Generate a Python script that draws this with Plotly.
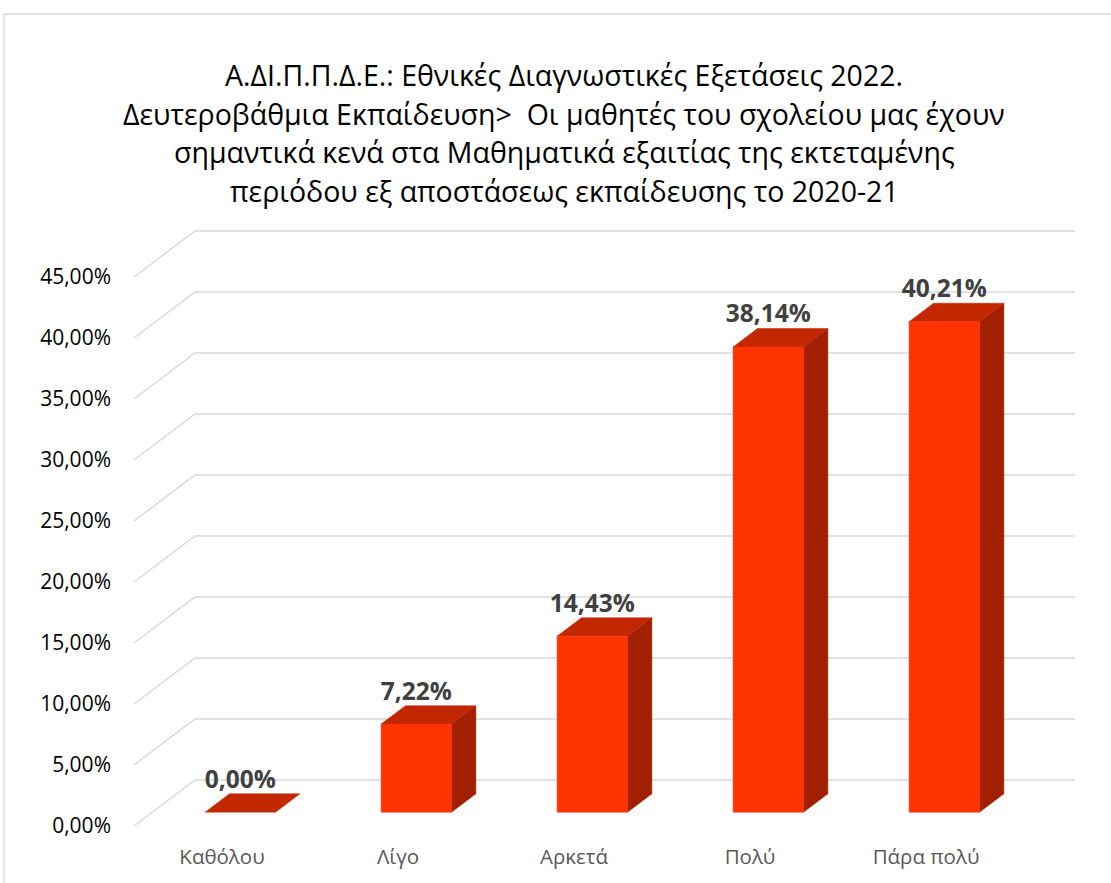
import plotly.graph_objects as go

categories = ["Καθόλου", "Λίγο", "Αρκετά", "Πολύ", "Πάρα πολύ"]
values = [0.00, 7.22, 14.43, 38.14, 40.21]
tick_values = [0, 5, 10, 15, 20, 25, 30, 35, 40, 45]
tick_labels = ["0,00%", "5,00%", "10,00%", "15,00%", "20,00%", "25,00%",
               "30,00%", "35,00%", "40,00%", "45,00%"]
title_lines = [
    "Α.ΔΙ.Π.Π.Δ.Ε.: Εθνικές Διαγνωστικές Εξετάσεις 2022.",
    "Δευτεροβάθμια Εκπαίδευση>\u00a0 Οι μαθητές του σχολείου μας έχουν",
    "σημαντικά κενά στα Μαθηματικά εξαιτίας της εκτεταμένης",
    "περιόδου εξ αποστάσεως εκπαίδευσης το 2020-21",
]

# layout geometry (pixels); body margin removed via post_script
OFF = 0
W, H = 1111, 883
ML, MR, MT, MB = 124, 26, 221, 47
PW, PH = W - ML - MR, H - MT - MB
PX_PER_CAT = 176.0
PX_PER_PCT = 12.2
X0 = -0.5 - 10 / PX_PER_CAT
Y0 = -10 / PX_PER_PCT
XR = [X0, X0 + PW / PX_PER_CAT]
YR = [Y0, Y0 + PH / PX_PER_PCT]

# oblique depth projection (in data units)
DX = 61 / PX_PER_CAT
DY = 46 / PX_PER_PCT
T1, T2 = 0.3, 0.7      # bar front / back depth
HW = 0.2               # bar half width (categories)

FRONT = "#FF3300"
TOP = "#C22700"
SIDE = "#A02000"
GRID = "#D9D9D9"


def proj(x, v, t):
    return x + t * DX, v + t * DY


fig = go.Figure()

# gridlines: left wall diagonals + back wall horizontals
gx, gy = [], []
for v in tick_values:
    a = proj(-0.5, v, 0)
    b = proj(-0.5, v, 1)
    c = proj(len(categories) - 0.5, v, 1)
    gx += [a[0], b[0], c[0], None]
    gy += [a[1], b[1], c[1], None]
fig.add_trace(go.Scatter(x=gx, y=gy, mode="lines",
                         line=dict(color=GRID, width=1.5),
                         hoverinfo="skip", showlegend=False))


def poly(pts, color):
    xs = [p[0] for p in pts] + [pts[0][0]]
    ys = [p[1] for p in pts] + [pts[0][1]]
    fig.add_trace(go.Scatter(x=xs, y=ys, mode="lines", fill="toself",
                             fillcolor=color, line=dict(color=color, width=0.5),
                             hoverinfo="skip", showlegend=False))


for i, v in enumerate(values):
    xl, xr = i - HW, i + HW
    if v > 0:
        poly([proj(xr, 0, T1), proj(xr, v, T1), proj(xr, v, T2), proj(xr, 0, T2)], SIDE)
    poly([proj(xl, v, T1), proj(xr, v, T1), proj(xr, v, T2), proj(xl, v, T2)], TOP)
    if v > 0:
        poly([proj(xl, 0, T1), proj(xr, 0, T1), proj(xr, v, T1), proj(xl, v, T1)], FRONT)

# data labels
lx = [proj(i, v, T1)[0] for i, v in enumerate(values)]
ly = [proj(i, v, T2)[1] for i, v in enumerate(values)]
ltxt = [f"{v:.2f}".replace(".", ",") + "%" for v in values]
fig.add_trace(go.Scatter(x=lx, y=ly, mode="text", text=ltxt,
                         textposition="top center", cliponaxis=False,
                         textfont=dict(family="Open Sans", size=24.5, color="#404040",
                                       weight="bold"),
                         hoverinfo="skip", showlegend=False))


def px2paper_x(px):
    return (px - OFF - ML) / PW


def px2paper_y(py):
    return (H - MB - (py - OFF)) / PH


# chart frame
fig.add_shape(type="rect", xref="paper", yref="paper",
              x0=px2paper_x(4), y0=px2paper_y(14), x1=px2paper_x(1125), y1=px2paper_y(900),
              line=dict(color="#D9D9D9", width=1.3), layer="below")

# title lines
for k, (txt, ypx) in enumerate(zip(title_lines, [75, 113.5, 152, 190.5])):
    fig.add_annotation(text=txt, xref="paper", yref="paper",
                       x=px2paper_x(564), y=px2paper_y(ypx),
                       xanchor="center", yanchor="middle", showarrow=False,
                       font=dict(family="Open Sans", size=28.5, color="#000000"))

fig.update_layout(
    width=W, height=H,
    margin=dict(l=ML, r=MR, t=MT, b=MB, pad=0),
    paper_bgcolor="white", plot_bgcolor="white",
    xaxis=dict(range=XR, tickvals=list(range(len(categories))), ticktext=categories,
               showgrid=False, zeroline=False, showline=False, ticks="",
               ticklabelstandoff=6, fixedrange=True,
               tickfont=dict(family="Open Sans", size=20.5, color="#595959")),
    yaxis=dict(range=YR, tickvals=tick_values, ticktext=tick_labels,
               showgrid=False, zeroline=False, showline=False, ticks="",
               ticklabelstandoff=12, fixedrange=True,
               tickfont=dict(family="Open Sans", size=21, color="#000000")),
    showlegend=False,
)

fig.write_html("out.html", config={"displayModeBar": False},
               post_script="document.body.style.margin='0';document.body.style.overflow='hidden';")
